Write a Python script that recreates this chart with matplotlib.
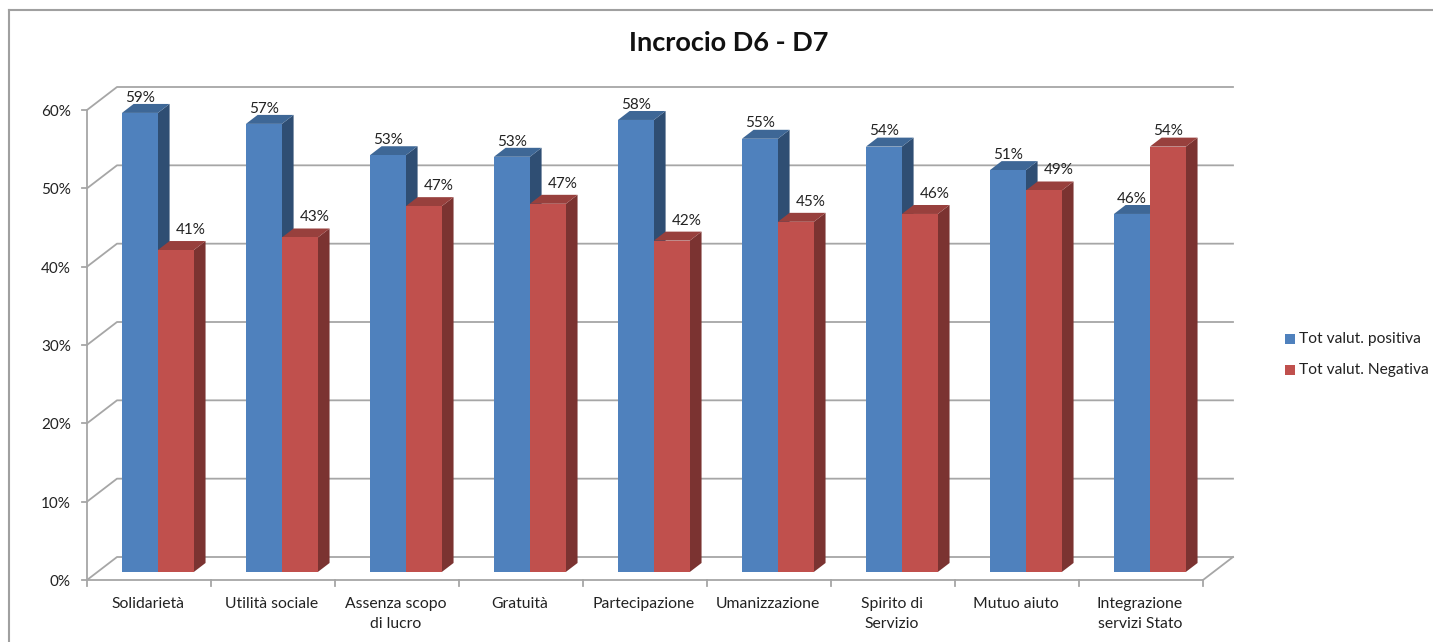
import matplotlib
matplotlib.use("Agg")
import matplotlib.pyplot as plt
from matplotlib.patches import Polygon, Rectangle

categories = ['Solidarietà', 'Utilità sociale', 'Assenza scopo\ndi lucro', 'Gratuità', 'Partecipazione',
              'Umanizzazione', 'Spirito di\nServizio', 'Mutuo aiuto', 'Integrazione\nservizi Stato']
positive = [58.6, 57.2, 53.2, 53.0, 57.7, 55.3, 54.3, 51.3, 45.7]
negative = [41.1, 42.7, 46.7, 47.0, 42.3, 44.7, 45.7, 48.7, 54.3]
y_ticks = [0, 10, 20, 30, 40, 50, 60]
series_names = ['Tot valut. positiva', 'Tot valut. Negativa']

W, H = 1433, 642
BLUE, BLUE_TOP, BLUE_SIDE = '#4f81bd', '#3e6796', '#2f4e73'
RED, RED_TOP, RED_SIDE = '#c0504d', '#98403d', '#7b3331'
GRID = '#a6a6a6'
TEXT = '#222222'

# depth of the fake 3d box, in data units (one category = 124 px, 10% = 78.3 px)
DEPTH_X = 30 / 124
DEPTH_Y = 23 / (470 / 60)
BAR_WIDTH = 0.29
BAR_FRONT = 0.35
BAR_BACK = 0.74

plt.rcParams['font.family'] = ['Lato', 'DejaVu Sans']

fig = plt.figure(figsize=(W / 100, H / 100), dpi=100)
ax = fig.add_axes([87 / W, 1 - 580 / H, 1116 / W, 470 / H])
ax.set_xlim(0, len(categories))
ax.set_ylim(0, 60)
ax.axis('off')


def proj(x, y, depth):
    return (x + depth * DEPTH_X, y + depth * DEPTH_Y)


def draw_bar(left, value, front, top, side):
    x0, x1 = left, left + BAR_WIDTH
    a, b = BAR_FRONT, BAR_BACK
    ax.add_patch(Polygon([proj(x1, 0, a), proj(x1, 0, b), proj(x1, value, b), proj(x1, value, a)],
                         fc=side, ec='none', clip_on=False, zorder=3))
    ax.add_patch(Polygon([proj(x0, value, a), proj(x1, value, a), proj(x1, value, b), proj(x0, value, b)],
                         fc=top, ec='none', clip_on=False, zorder=3))
    fx, fy = proj(x0, 0, a)
    ax.add_patch(Rectangle((fx, fy), BAR_WIDTH, value, fc=front, ec='none', clip_on=False, zorder=4))


# walls and floor
n = len(categories)
for t in y_ticks:
    bx0, by0 = proj(0, t, 1)
    bx1, by1 = proj(n, t, 1)
    ax.plot([0, bx0, bx1], [t, by0, by1], color=GRID, lw=1.3, clip_on=False, zorder=1)
    ax.plot([-5 / 124, 0], [t, t], color=GRID, lw=1.3, clip_on=False, zorder=1)
    ax.text(-16 / 124, t - 0.25, '%d%%' % t, ha='right', va='center', fontsize=11, color=TEXT, clip_on=False)
ax.plot([0, 0], [0, 60], color=GRID, lw=1.3, clip_on=False, zorder=1)
bx1, by1 = proj(n, 0, 1)
ax.plot([0, n, bx1], [0, 0, by1], color=GRID, lw=1.3, clip_on=False, zorder=1)
for i in range(n + 1):
    ax.plot([i, i], [0, -0.8], color=GRID, lw=1.3, clip_on=False, zorder=1)

for i, name in enumerate(categories):
    ax.text(i + 0.49, -2.2, name, ha='center', va='top', fontsize=11.3, color=TEXT,
            linespacing=1.5, clip_on=False)

# bars and their labels
for i in range(n):
    left = i + 0.197
    draw_bar(left, positive[i], BLUE, BLUE_TOP, BLUE_SIDE)
    draw_bar(left + BAR_WIDTH, negative[i], RED, RED_TOP, RED_SIDE)
    lx, ly = proj(left + BAR_WIDTH / 2, positive[i], BAR_FRONT)
    ax.text(lx, ly + 1.95, '%.0f%%' % positive[i], ha='center', va='center', fontsize=11,
            color=TEXT, zorder=5, clip_on=False)
    # the lower bar of the pair has its label pushed to the right and up
    lower = negative[i] < positive[i]
    lx, ly = proj(left + 1.5 * BAR_WIDTH + (0.12 if lower else 0), negative[i], BAR_FRONT)
    ax.text(lx, ly + (2.55 if lower else 1.95), '%.0f%%' % negative[i], ha='center', va='center', fontsize=11,
            color=TEXT, zorder=5, clip_on=False)

# frame, title and legend live in figure pixels
fig.add_artist(plt.Line2D([9 / W, 9 / W], [0, 1 - 10 / H], color='#a0a0a0', lw=1.5))
fig.add_artist(plt.Line2D([9 / W, 1 - 1 / W], [1 - 10 / H, 1 - 10 / H], color='#a0a0a0', lw=1.5))
fig.text(729 / W, 1 - 43 / H, 'Incrocio D6 - D7', ha='center', va='center', fontsize=19.5,
         fontweight='bold', color='#111111')
for name, color, y in zip(series_names, [BLUE, RED], [339, 370]):
    fig.add_artist(Rectangle((1285 / W, 1 - (y + 5) / H), 10 / W, 10 / H, fc=color, ec='none',
                             transform=fig.transFigure))
    fig.text(1299 / W, 1 - y / H, name, ha='left', va='center', fontsize=11.2, color=TEXT)

fig.savefig('out.png', dpi=100)
